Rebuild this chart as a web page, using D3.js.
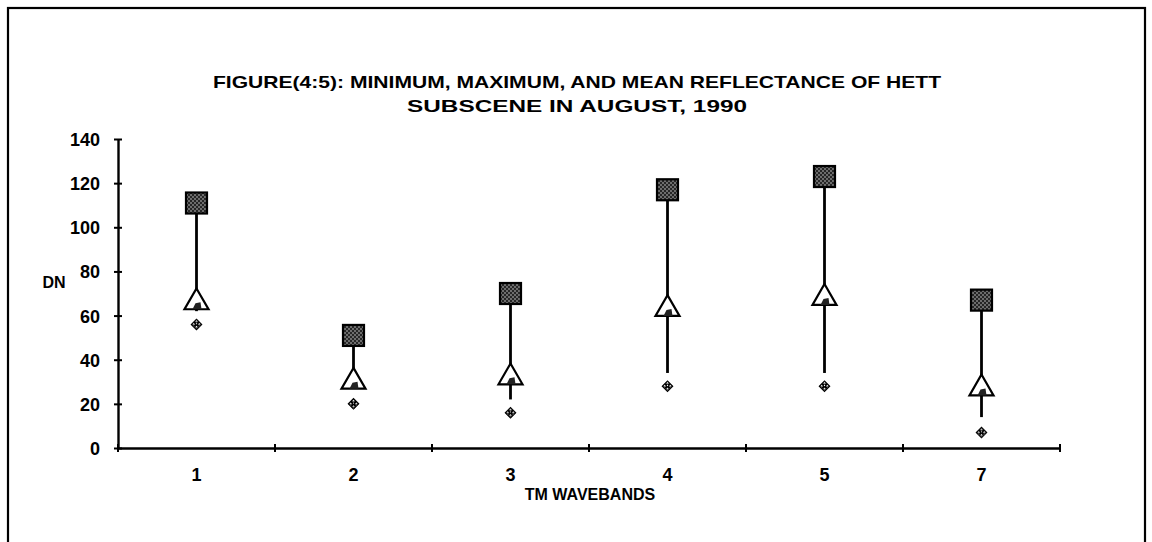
<!DOCTYPE html>
<html>
<head>
<meta charset="utf-8">
<script src="https://cdn.jsdelivr.net/npm/d3@7"></script>
<style>
  html, body { margin: 0; padding: 0; background: #fff; }
  svg { display: block; }
  text { font-family: "Liberation Sans", Arial, sans-serif; font-weight: bold; fill: #000; }
</style>
</head>
<body>
<svg id="chart" width="1152" height="542"></svg>
<script>
// TM waveband categories
const bands = ["1", "2", "3", "4", "5", "7"];
// Maximum, mean and minimum DN per waveband
const maxVals  = [111, 51, 70, 117, 123, 67];
const meanVals = [66, 30, 32, 63, 68, 27];
const minVals  = [56, 20, 16, 28, 28, 7];
// Lower end of each high-low drop line
const lowVals  = [62, 27, 22, 34, 34, 14];
// Y-axis ticks
const yTicks = [0, 20, 40, 60, 80, 100, 120, 140];

const titleLines = [
  "FIGURE(4:5): MINIMUM, MAXIMUM, AND MEAN REFLECTANCE OF HETT",
  "SUBSCENE IN AUGUST, 1990"
];
const titleWidths = [728, 340];

const svg = d3.select("#chart");
const plot = { left: 118, right: 1060, top: 139, bottom: 448 };

// Pattern fills for the max squares and min diamonds
const defs = svg.append("defs");
const dots = defs.append("pattern")
  .attr("id", "dots").attr("width", 4).attr("height", 4)
  .attr("patternUnits", "userSpaceOnUse");
dots.append("rect").attr("width", 4).attr("height", 4).attr("fill", "#262626");
dots.append("circle").attr("cx", 1).attr("cy", 1).attr("r", 0.8).attr("fill", "#c8c8c8");
dots.append("circle").attr("cx", 3).attr("cy", 3).attr("r", 0.8).attr("fill", "#c8c8c8");

const checks = defs.append("pattern")
  .attr("id", "checks").attr("width", 4).attr("height", 4)
  .attr("patternUnits", "userSpaceOnUse");
checks.append("rect").attr("width", 4).attr("height", 4).attr("fill", "#000");
checks.append("rect").attr("x", 1).attr("y", 1).attr("width", 1.6).attr("height", 1.6).attr("fill", "#fff");
checks.append("rect").attr("x", 3).attr("y", 3).attr("width", 1.6).attr("height", 1.6).attr("fill", "#fff");

// Outer frame
svg.append("rect")
  .attr("x", 8).attr("y", 8).attr("width", 1137).attr("height", 560)
  .attr("fill", "none").attr("stroke", "#000").attr("stroke-width", 2.2);

// Title
svg.append("g").selectAll("text").data(titleLines).join("text")
  .attr("x", 577).attr("y", (d, i) => 88 + i * 24)
  .attr("text-anchor", "middle")
  .attr("font-size", 17)
  .attr("textLength", (d, i) => titleWidths[i])
  .attr("lengthAdjust", "spacingAndGlyphs")
  .text(d => d);

const x = d3.scaleBand().domain(bands).range([plot.left, plot.right]).padding(0);
const y = d3.scaleLinear().domain([0, 140]).range([plot.bottom, plot.top]);

// Y axis
const yAxis = svg.append("g")
  .attr("transform", `translate(${plot.left},0)`)
  .call(d3.axisLeft(y).tickValues(yTicks).tickSize(0).tickPadding(18));
yAxis.select(".domain").attr("stroke", "#000").attr("stroke-width", 2.4);
yAxis.selectAll(".tick text").attr("font-size", 18).attr("dy", "0.36em")
  .attr("font-family", "Liberation Sans, Arial, sans-serif").attr("font-weight", "bold");
yAxis.selectAll(".tick").append("line")
  .attr("x1", -4).attr("x2", 4).attr("stroke", "#000").attr("stroke-width", 2);

// X axis
const xAxis = svg.append("g")
  .attr("transform", `translate(0,${plot.bottom})`)
  .call(d3.axisBottom(x).tickSize(0).tickPadding(20));
xAxis.select(".domain").attr("stroke", "#000").attr("stroke-width", 2.4);
xAxis.selectAll(".tick text").attr("font-size", 18)
  .attr("font-family", "Liberation Sans, Arial, sans-serif").attr("font-weight", "bold");
// category boundary ticks
const bounds = bands.map(b => x(b)).concat([x(bands[bands.length - 1]) + x.bandwidth()]);
svg.append("g").selectAll("line").data(bounds).join("line")
  .attr("x1", d => d).attr("x2", d => d)
  .attr("y1", plot.bottom - 4).attr("y2", plot.bottom + 4)
  .attr("stroke", "#000").attr("stroke-width", 2);

// Axis titles
svg.append("text").attr("x", 54).attr("y", 288).attr("text-anchor", "middle")
  .attr("font-size", 16).text("DN");
svg.append("text").attr("x", 590).attr("y", 500).attr("text-anchor", "middle")
  .attr("font-size", 16).text("TM WAVEBANDS");

const cx = d => x(d) + x.bandwidth() / 2;
const rows = bands.map((b, i) => ({ b, max: maxVals[i], mean: meanVals[i], min: minVals[i], low: lowVals[i] }));

// High-low drop lines
svg.append("g").selectAll("line").data(rows).join("line")
  .attr("x1", d => cx(d.b)).attr("x2", d => cx(d.b))
  .attr("y1", d => y(d.max)).attr("y2", d => y(d.low))
  .attr("stroke", "#000").attr("stroke-width", 2.8);

// Mean: white triangles with a dark core
const tri = d3.symbol().type(d3.symbolTriangle).size(250);
const meanG = svg.append("g").selectAll("g").data(rows).join("g")
  .attr("transform", d => `translate(${cx(d.b)},${y(d.mean)})`);
meanG.append("path").attr("d", tri).attr("fill", "#fff").attr("stroke", "#000").attr("stroke-width", 2.2);
meanG.append("path").attr("d", "M-4,7 L-1,1 L4,0 L5,7 Z").attr("fill", "#222");

// Maximum: dotted squares
const sq = 21;
svg.append("g").selectAll("rect").data(rows).join("rect")
  .attr("x", d => cx(d.b) - sq / 2).attr("y", d => y(d.max) - sq / 2)
  .attr("width", sq).attr("height", sq)
  .attr("fill", "url(#dots)").attr("stroke", "#000").attr("stroke-width", 2.2);

// Minimum: small checkered diamonds
const dia = d3.symbol().type(d3.symbolSquare).size(56);
svg.append("g").selectAll("path").data(rows).join("path")
  .attr("transform", d => `translate(${cx(d.b)},${y(d.min)}) rotate(45)`)
  .attr("d", dia).attr("fill", "url(#checks)").attr("stroke", "#000").attr("stroke-width", 1);
</script>
</body>
</html>
